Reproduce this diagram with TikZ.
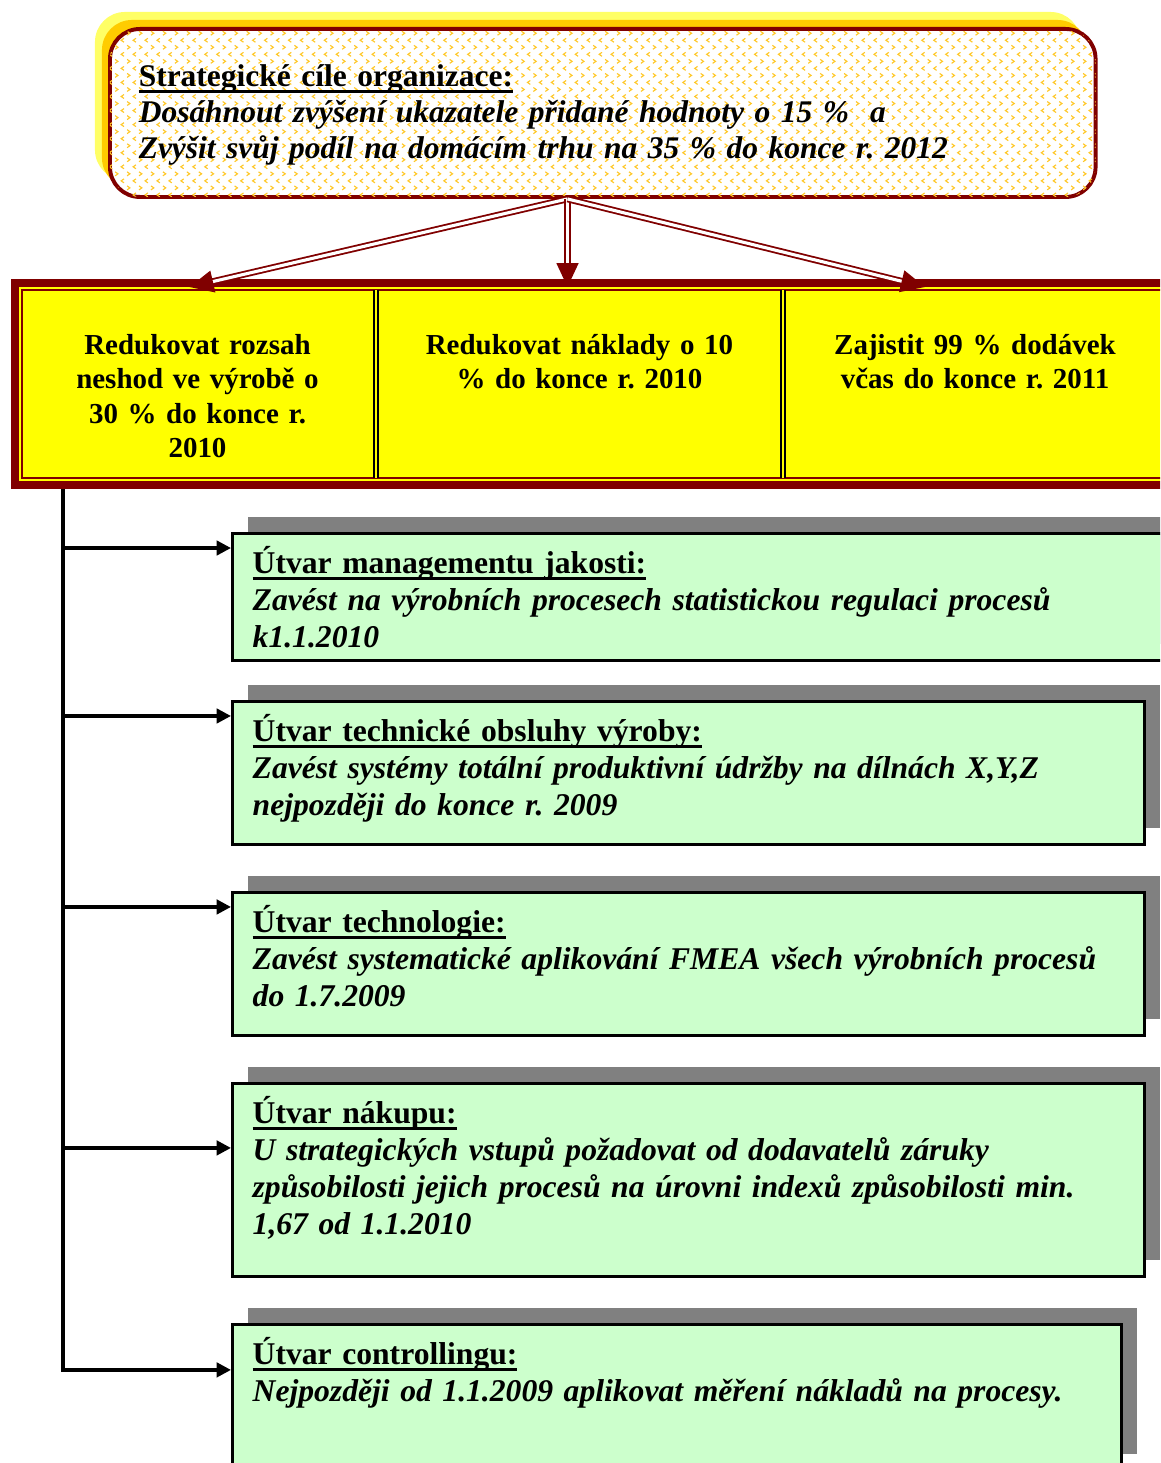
\documentclass[tikz,border=0pt]{standalone}
\usepackage{fontspec}
\setmainfont{Liberation Serif}
\frenchspacing
\usetikzlibrary{arrows.meta, positioning, fit, shadows, patterns, calc}

\definecolor{frame}{RGB}{128, 0, 0}
\definecolor{goalbg}{RGB}{255, 255, 0}
\definecolor{unitbg}{RGB}{204, 255, 204}
\definecolor{glowyellow}{RGB}{255, 255, 102}
\definecolor{glowgold}{RGB}{255, 204, 0}
\definecolor{chevcol}{RGB}{255, 200, 40}

\pgfdeclarepatternformonly{chevrons}{\pgfqpoint{-1pt}{-1pt}}{\pgfqpoint{10pt}{11pt}}{\pgfqpoint{8.5pt}{10pt}}{%
    \pgfsetlinewidth{0.8pt}
    \pgfpathmoveto{\pgfqpoint{3.2pt}{0.6pt}}
    \pgfpathlineto{\pgfqpoint{1.2pt}{2pt}}
    \pgfpathlineto{\pgfqpoint{3.2pt}{3.4pt}}
    \pgfpathmoveto{\pgfqpoint{5.4pt}{5.6pt}}
    \pgfpathlineto{\pgfqpoint{7.4pt}{7pt}}
    \pgfpathlineto{\pgfqpoint{5.4pt}{8.4pt}}
    \pgfusepath{stroke}
}

% underlined heading, rule close under the baseline
\newsavebox{\headbox}
\newcommand{\headline}[1]{\sbox{\headbox}{#1}\rlap{\rule[-4.2pt]{\wd\headbox}{1.8pt}}\usebox{\headbox}}

\tikzset{
    strategy/.style={rectangle, rounded corners=0.75cm, draw=frame, line width=2.8pt, fill=white,
        postaction={pattern=chevrons, pattern color=chevcol},
        general shadow={shadow xshift=-0.375cm, shadow yshift=0.425cm, fill=glowyellow},
        general shadow={shadow xshift=-0.2cm, shadow yshift=0.225cm, fill=glowgold},
        anchor=north west, align=left, inner xsep=0.72cm, inner ysep=0pt, text width=23.2cm,
        text height=1.45cm, text depth=2.75cm, font=\fontsize{22.4}{25.3}\selectfont\bfseries},
    goal/.style={rectangle, fill=goalbg, inner sep=0pt, outer sep=0pt, align=center,
        text height=1.69cm, text depth=3.16cm, font=\fontsize{20.6}{24.4}\selectfont\bfseries},
    goalframe/.style={rectangle, draw=frame, line width=5.7pt, inner sep=0.1cm},
    goalrule/.style={draw=frame, line width=1.4pt},
    divider/.style={draw=black, line width=1.2pt, double=goalbg, double distance=1.4pt},
    unit/.style={rectangle, draw=black, line width=2.4pt, fill=unitbg, anchor=north west, align=left,
        inner xsep=0.5cm, inner ysep=0pt, text height=1cm,
        drop shadow={shadow xshift=0.375cm, shadow yshift=0.425cm, fill=black!50, opacity=1},
        font=\fontsize{22.5}{26.3}\selectfont\bfseries},
    cascade/.style={draw=frame, line width=1.3pt, double=white, double distance=2.2pt,
        -{Triangle[length=0.6cm, width=0.55cm]}},
    branch/.style={draw=black, line width=2.4pt, -{Triangle[length=0.36cm, width=0.36cm]}}
}

\begin{document}
\begin{tikzpicture}

    \useasboundingbox (0,0) rectangle (29,-36.575);
    \clip (0,0) rectangle (29,-36.575);

    % Strategic goals
    \node (strat) [strategy] at (2.7,-0.675) {\headline{Strategické cíle organizace:}\\
        \itshape Dosáhnout zvýšení ukazatele přidané hodnoty o 15 \%~~a\\
        Zvýšit svůj podíl na domácím trhu na 35 \% do konce r. 2012};

    % Sub-goals row
    \node (g1) [goal, text width=8.925cm, anchor=north west] at (0.475,-7.175) {Redukovat rozsah\\neshod ve výrobě o\\30 \% do konce r.\\2010};
    \node (g2) [goal, text width=10.175cm, right=0cm of g1] {Redukovat náklady o 10\\\% do konce r. 2010};
    \node (g3) [goal, text width=9.6cm, right=0cm of g2] {Zajistit 99 \% dodávek\\včas do konce r. 2011};

    \node (row) [goalframe, fit=(g1) (g3)] {};
    \draw [goalrule] ([shift={(0.075,-0.075)}]g1.north west) rectangle ([shift={(-0.075,0.075)}]g3.south east);
    \draw [divider] ([yshift=-0.075cm]g1.north east) -- ([yshift=0.075cm]g1.south east);
    \draw [divider] ([yshift=-0.075cm]g2.north east) -- ([yshift=0.075cm]g2.south east);

    % Cascade arrows
    \coordinate (fork) at ($(strat.south -| g2.north)+(-0.3,0)$);
    \draw [cascade] (fork) -- ([xshift=-0.2cm]g1.north);
    \draw [cascade] (fork) -- ([xshift=-0.3cm]g2.north);
    \draw [cascade] (fork) -- ([xshift=-1.25cm]g3.north);

    % Departments
    \node (quality) [unit, text width=22.6cm, text depth=2.175cm] at (5.775,-13.3) {\headline{Útvar managementu jakosti:}\\
        \itshape Zavést na výrobních procesech statistickou regulaci procesů\\k1.1.2010};
    \node (maint) [unit, text width=21.8cm, text depth=2.575cm, below=0.94cm of quality.south west, anchor=north west] {\headline{Útvar technické obsluhy výroby:}\\
        \itshape Zavést systémy totální produktivní údržby na dílnách X,Y,Z\\nejpozději do konce r. 2009};
    \node (tech) [unit, text width=21.8cm, text depth=2.575cm, below=1.115cm of maint.south west, anchor=north west] {\headline{Útvar technologie:}\\
        \itshape Zavést systematické aplikování FMEA všech výrobních procesů\\do 1.7.2009};
    \node (purchase) [unit, text width=21.8cm, text depth=3.825cm, below=1.115cm of tech.south west, anchor=north west] {\headline{Útvar nákupu:}\\
        \itshape U strategických vstupů požadovat od dodavatelů záruky\\způsobilosti jejich procesů na úrovni indexů způsobilosti min.\\1,67 od 1.1.2010};
    \node (control) [unit, text width=21.225cm, text depth=2.65cm, below=1.115cm of purchase.south west, anchor=north west] {\headline{Útvar controllingu:}\\
        \itshape Nejpozději od 1.1.2009 aplikovat měření nákladů na procesy.};

    % Connectors
    \coordinate (spine) at ([xshift=1.3cm]row.south west);
    \draw [branch] (spine) |- ([yshift=-0.4cm]quality.north west);
    \draw [branch] (spine) |- ([yshift=-0.4cm]maint.north west);
    \draw [branch] (spine) |- ([yshift=-0.4cm]tech.north west);
    \draw [branch] (spine) |- ([yshift=-1.65cm]purchase.north west);
    \draw [branch] (spine) |- ([yshift=-1.175cm]control.north west);

\end{tikzpicture}
\end{document}
